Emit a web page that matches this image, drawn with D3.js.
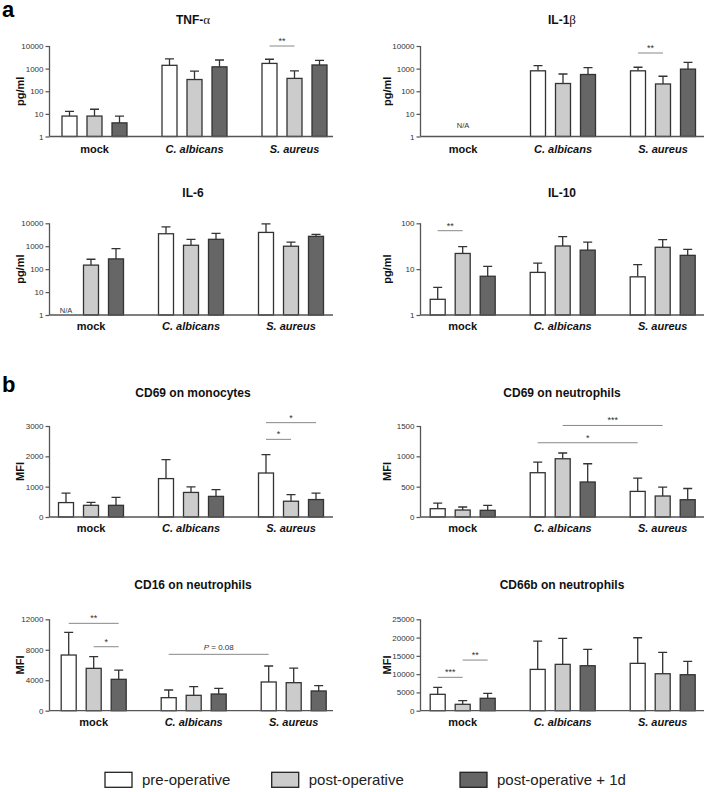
<!DOCTYPE html>
<html>
<head>
<meta charset="utf-8">
<script src="https://cdn.jsdelivr.net/npm/d3@7"></script>
<style>
  body { margin: 0; background: #fff; }
  svg { font-family: Arial, "Liberation Sans", sans-serif; }
</style>
</head>
<body>
<div id="chart"></div>
<script>
// categories and series
var groups = ["mock", "C. albicans", "S. aureus"];
var series = ["pre-operative", "post-operative", "post-operative + 1d"];
var fills = ["#ffffff", "#cccccc", "#666666"];

// means / upper error (mean + SD), rows = groups, cols = series, null = N/A
var tnfMean = [[8, 8, 4], [1400, 330, 1200], [1700, 370, 1450]];
var tnfErr  = [[13, 16, 8], [2700, 780, 2400], [2600, 800, 2300]];
var il1Mean = [[null, null, null], [800, 220, 550], [800, 210, 950]];
var il1Err  = [[null, null, null], [1350, 580, 1100], [1150, 460, 1900]];
var il6Mean = [[null, 150, 280], [3500, 1100, 2000], [4000, 1000, 2700]];
var il6Err  = [[null, 270, 780], [7000, 2000, 3600], [9500, 1500, 3300]];
var il10Mean = [[2.2, 22, 7], [8.5, 32, 26], [6.8, 30, 20]];
var il10Err  = [[4, 31, 11.5], [13.5, 51, 39], [12.5, 44, 27]];
var cd69mMean = [[475, 385, 385], [1266, 810, 680], [1450, 520, 575]];
var cd69mErr  = [[790, 480, 650], [1892, 990, 900], [2057, 740, 790]];
var cd69nMean = [[137, 115, 110], [730, 960, 577], [422, 346, 285]];
var cd69nErr  = [[230, 165, 190], [905, 1055, 878], [642, 494, 470]];
var cd16Mean = [[7310, 5560, 4120], [1710, 2020, 2190], [3770, 3680, 2590]];
var cd16Err  = [[10290, 7090, 5340], [2720, 3150, 2940], [5870, 5600, 3280]];
var cd66Mean = [[4480, 1750, 3390], [11300, 12680, 12300], [12950, 10110, 9840]];
var cd66Err  = [[6390, 2730, 4750], [19040, 19780, 16780], [19950, 15960, 13500]];

// significance brackets: [group, series] -> [group, series] at value
var tnfSig = [{a: [2, 0], b: [2, 1], v: 10000, t: "**"}];
var il1Sig = [{a: [2, 0], b: [2, 1], v: 4900, t: "**"}];
var il10Sig = [{a: [0, 0], b: [0, 1], v: 69, t: "**"}];
var cd69mSig = [{a: [2, 0], b: [2, 1], v: 2560, t: "*"}, {a: [2, 0], b: [2, 2], v: 3110, t: "*"}];
var cd69nSig = [{a: [1, 0], b: [2, 0], v: 1224, t: "*"}, {a: [1, 1], b: [2, 1], v: 1509, t: "***"}];
var cd16Sig = [{a: [0, 0], b: [0, 2], v: 11470, t: "**"}, {a: [0, 1], b: [0, 2], v: 8400, t: "*"}, {a: [1, 0], b: [2, 0], v: 7400, t: "P = 0.08"}];
var cd66Sig = [{a: [0, 0], b: [0, 1], v: 9130, t: "***"}, {a: [0, 1], b: [0, 2], v: 13850, t: "**"}];

var logTicks = [1, 10, 100, 1000, 10000];

var W = 707, H = 792;
var svg = d3.select("#chart").append("svg").attr("width", W).attr("height", H);

// layout
var rows = [
  {base: 136.5, top: 46, title: 24, cat: 153},
  {base: 315, top: 223.3, title: 197, cat: 330},
  {base: 517, top: 426, title: 397, cat: 532},
  {base: 710.7, top: 619.3, title: 589, cat: 726}
];
var cols = [
  {axis: 49.5, end: 333, ylab: 20, titleX: 193},
  {axis: 420.5, end: 704, ylab: 387, titleX: 562}
];

var panels = [
  {row: 0, col: 0, x0: 44.5, title: "TNF-", greek: "\u03b1", mean: tnfMean, err: tnfErr, sig: tnfSig, log: true, domain: [1, 10000], ticks: logTicks, ylab: "pg/ml"},
  {row: 0, col: 1, x0: 413, title: "IL-1", greek: "\u03b2", mean: il1Mean, err: il1Err, sig: il1Sig, log: true, domain: [1, 10000], ticks: logTicks, ylab: "pg/ml", na: [0, 1, 3]},
  {row: 1, col: 0, x0: 41, title: "IL-6", mean: il6Mean, err: il6Err, sig: [], log: true, domain: [1, 10000], ticks: logTicks, ylab: "pg/ml", na: [0, 0, 1.6]},
  {row: 1, col: 1, x0: 412.7, title: "IL-10", mean: il10Mean, err: il10Err, sig: il10Sig, log: true, domain: [1, 100], ticks: [1, 10, 100], ylab: "pg/ml"},
  {row: 2, col: 0, x0: 41, title: "CD69 on monocytes", mean: cd69mMean, err: cd69mErr, sig: cd69mSig, domain: [0, 3000], ticks: [0, 1000, 2000, 3000], ylab: "MFI"},
  {row: 2, col: 1, x0: 412.7, title: "CD69 on neutrophils", mean: cd69nMean, err: cd69nErr, sig: cd69nSig, domain: [0, 1500], ticks: [0, 500, 1000, 1500], ylab: "MFI"},
  {row: 3, col: 0, x0: 43.7, title: "CD16 on neutrophils", mean: cd16Mean, err: cd16Err, sig: cd16Sig, domain: [0, 12000], ticks: [0, 4000, 8000, 12000], ylab: "MFI"},
  {row: 3, col: 1, x0: 412.7, title: "CD66b on neutrophils", mean: cd66Mean, err: cd66Err, sig: cd66Sig, domain: [0, 25000], ticks: [0, 5000, 10000, 15000, 20000, 25000], ylab: "MFI"}
];

var barW = 15;
var inner = d3.scalePoint().domain([0, 1, 2]).range([-25, 25]);

panels.forEach(drawPanel);

function drawPanel(p) {
  var r = rows[p.row], c = cols[p.col];
  var g = svg.append("g");

  var x = d3.scaleBand().domain([0, 1, 2]).range([p.x0, p.x0 + 300]);
  var y = (p.log ? d3.scaleLog() : d3.scaleLinear()).domain(p.domain).range([r.base, r.top]);
  var bx = function(gi, si) { return x(gi) + x.bandwidth() / 2 + inner(si); };

  // title
  var t = g.append("text")
      .attr("x", c.titleX).attr("y", r.title)
      .attr("text-anchor", "middle")
      .attr("font-size", 12).attr("font-weight", "bold").attr("fill", "#111")
      .text(p.title);
  if (p.greek) {
    t.append("tspan").attr("font-family", "'Liberation Serif', 'DejaVu Serif', serif")
      .attr("font-weight", "normal").attr("font-size", 13).text(p.greek);
  }

  // y axis
  var ax = g.append("g")
      .attr("transform", "translate(" + c.axis + ",0)")
      .call(d3.axisLeft(y).tickValues(p.ticks).tickSize(4).tickPadding(2).tickFormat(d3.format("d")));
  ax.select(".domain").attr("stroke", "#555").attr("stroke-width", 1.3).attr("d", "M0," + r.top + "V" + r.base);
  ax.selectAll(".tick line").attr("stroke", "#555").attr("stroke-width", 1.2);
  ax.selectAll(".tick text").attr("font-size", 8).attr("fill", "#333")
      .attr("font-family", "Arial, 'Liberation Sans', sans-serif");

  g.append("text")
      .attr("transform", "translate(" + c.ylab + "," + ((r.top + r.base) / 2) + ") rotate(-90)")
      .attr("text-anchor", "middle").attr("dy", "0.35em")
      .attr("font-size", 11).attr("font-weight", "bold").attr("fill", "#111")
      .text(p.ylab);

  // bars
  var cells = [];
  p.mean.forEach(function(row, gi) {
    row.forEach(function(v, si) {
      if (v != null) cells.push({gi: gi, si: si, v: v, e: p.err[gi][si]});
    });
  });

  g.selectAll(".err")
      .data(cells)
    .enter().append("path")
      .attr("class", "err")
      .attr("d", function(d) {
        var cx = bx(d.gi, d.si);
        return "M" + cx + "," + y(d.v) + "V" + y(d.e) + "M" + (cx - 4.5) + "," + y(d.e) + "H" + (cx + 4.5);
      })
      .attr("stroke", "#333").attr("stroke-width", 1.3).attr("fill", "none");

  g.selectAll(".bar")
      .data(cells)
    .enter().append("rect")
      .attr("class", "bar")
      .attr("x", function(d) { return bx(d.gi, d.si) - barW / 2; })
      .attr("y", function(d) { return y(d.v); })
      .attr("width", barW)
      .attr("height", function(d) { return y(p.domain[0]) - y(d.v); })
      .attr("fill", function(d) { return fills[d.si]; })
      .attr("stroke", "#333").attr("stroke-width", 1.3);

  // x axis line
  g.append("line")
      .attr("x1", c.axis).attr("x2", c.end)
      .attr("y1", r.base).attr("y2", r.base)
      .attr("stroke", "#555").attr("stroke-width", 1.3);

  // category labels
  g.selectAll(".cat")
      .data(groups)
    .enter().append("text")
      .attr("x", function(d, i) { return x(i) + x.bandwidth() / 2; })
      .attr("y", r.cat)
      .attr("text-anchor", "middle")
      .attr("font-size", 11).attr("font-weight", "bold").attr("fill", "#111")
      .attr("font-style", function(d, i) { return i ? "italic" : "normal"; })
      .text(function(d) { return d; });

  // N/A
  if (p.na) {
    g.append("text")
        .attr("x", bx(p.na[0], p.na[1])).attr("y", y(p.na[2]))
        .attr("text-anchor", "middle").attr("dy", "0.35em")
        .attr("font-size", 7.5).attr("fill", "#333")
        .text("N/A");
  }

  // significance
  p.sig.forEach(function(s) {
    var xa = bx(s.a[0], s.a[1]), xb = bx(s.b[0], s.b[1]), yy = y(s.v);
    g.append("line")
        .attr("x1", xa).attr("x2", xb).attr("y1", yy).attr("y2", yy)
        .attr("stroke", "#888").attr("stroke-width", 1);
    var lab = g.append("text")
        .attr("x", (xa + xb) / 2).attr("y", yy - (s.t.length > 3 ? 4 : 2))
        .attr("text-anchor", "middle")
        .attr("font-size", s.t.length > 3 ? 8 : 9).attr("fill", "#333");
    if (s.t.charAt(0) === "P") {
      lab.append("tspan").attr("font-style", "italic").text("P");
      lab.append("tspan").text(s.t.slice(1));
    } else {
      lab.text(s.t);
    }
  });
}

// panel letters
svg.append("text").attr("x", 2).attr("y", 17).attr("font-size", 22).attr("font-weight", "bold").attr("fill", "#000").text("a");
svg.append("text").attr("x", 2).attr("y", 392).attr("font-size", 22).attr("font-weight", "bold").attr("fill", "#000").text("b");

// legend
var legendX = [105, 271.7, 460];
var leg = svg.selectAll(".leg")
    .data(series)
  .enter().append("g")
    .attr("class", "leg")
    .attr("transform", function(d, i) { return "translate(" + legendX[i] + ",772.3)"; });
leg.append("rect")
    .attr("width", 27).attr("height", 15)
    .attr("fill", function(d, i) { return fills[i]; })
    .attr("stroke", "#222").attr("stroke-width", 1.3);
leg.append("text")
    .attr("x", 37).attr("y", 7.5).attr("dy", "0.35em")
    .attr("font-size", 15).attr("fill", "#222")
    .text(function(d) { return d; });
</script>
</body>
</html>
